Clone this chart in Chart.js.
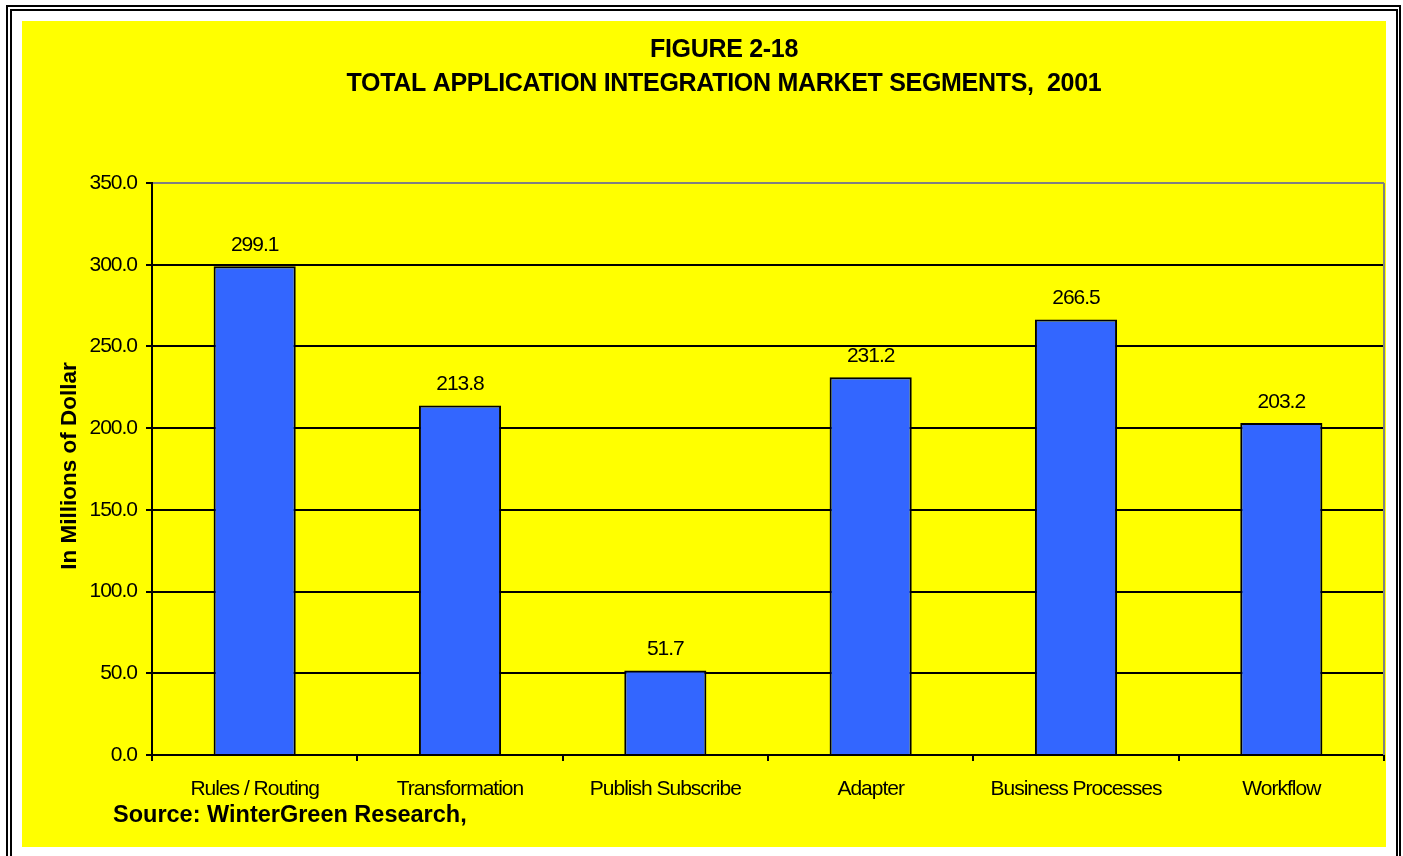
<!DOCTYPE html>
<html><head><meta charset="utf-8">
<script src="https://cdn.jsdelivr.net/npm/chart.js@4/dist/chart.umd.min.js"></script>
<style>
html,body{margin:0;padding:0;width:1403px;height:856px;overflow:hidden;background:#fff;}
#outer{position:absolute;left:6px;top:5px;width:1395px;height:900px;border:2px solid #000;box-sizing:border-box;}
#inner{position:absolute;left:10px;top:9px;width:1388px;height:900px;border:2px solid #000;box-sizing:border-box;}
#yellow{position:absolute;left:22px;top:21px;width:1364px;height:826px;background:#ffff00;}
#c{position:absolute;left:0;top:0;}
</style></head>
<body>
<div id="outer"></div><div id="inner"></div><div id="yellow"></div>
<canvas id="c" width="1403" height="856"></canvas>
<script>
const categories = ['Rules / Routing','Transformation','Publish Subscribe','Adapter','Business Processes','Workflow'];
const values = [299.1, 213.8, 51.7, 231.2, 266.5, 203.2];
const yMin = 0, yMax = 350, yStep = 50;
const titleLines = ['FIGURE 2-18', 'TOTAL APPLICATION INTEGRATION MARKET SEGMENTS,  2001'];
const yTitle = 'In Millions of Dollar';
const sourceText = 'Source: WinterGreen Research,';

const FONT = '"Liberation Sans", Arial, sans-serif';

const spacing = {
  id: 'spacing',
  beforeDraw(chart) { chart.ctx.letterSpacing = '-1px'; }
};

const decor = {
  id: 'decor',
  afterDatasetsDraw(chart) {
    const ctx = chart.ctx, a = chart.chartArea;
    ctx.save();
    // right plot border (gray)
    ctx.strokeStyle = '#808080'; ctx.lineWidth = 2;
    ctx.beginPath(); ctx.moveTo(a.right, a.top); ctx.lineTo(a.right, a.bottom); ctx.stroke();
    // data labels
    ctx.fillStyle = '#000';
    ctx.letterSpacing = '-1px';
    ctx.font = '21px ' + FONT;
    ctx.textAlign = 'center'; ctx.textBaseline = 'middle';
    chart.getDatasetMeta(0).data.forEach((bar, i) => {
      ctx.fillText(values[i].toFixed(1), bar.x, bar.y - 21);
    });
    // titles
    ctx.letterSpacing = '-0.3px';
    ctx.font = 'bold 25px ' + FONT;
    ctx.fillText(titleLines[0], 724, 50);
    ctx.fillText(titleLines[1], 724, 84);
    // y title
    ctx.save();
    ctx.letterSpacing = '0px';
    ctx.translate(70, 466); ctx.rotate(-Math.PI/2);
    ctx.font = 'bold 22.5px ' + FONT;
    ctx.fillText(yTitle, 0, 0);
    ctx.restore();
    // source
    ctx.letterSpacing = '0px';
    ctx.textAlign = 'left';
    ctx.font = 'bold 23.5px ' + FONT;
    ctx.fillText(sourceText, 113, 816);
    ctx.restore();
  }
};

new Chart(document.getElementById('c'), {
  type: 'bar',
  data: {
    labels: categories,
    datasets: [{
      data: values,
      backgroundColor: '#3366ff',
      borderColor: '#000',
      borderWidth: 2,
      barPercentage: 0.4,
      categoryPercentage: 1.0
    }]
  },
  options: {
    responsive: false,
    animation: false,
    events: [],
    layout: { padding: { top: 183, right: 19, left: 0, bottom: 0 } },
    plugins: { legend: { display: false }, title: { display: false }, tooltip: { enabled: false } },
    scales: {
      x: {
        afterFit(s) { s.height = 101; },
        grid: { drawOnChartArea: false, drawTicks: true, tickLength: 6, color: '#000', tickColor: '#000', lineWidth: 2, offset: true },
        border: { display: true, color: '#000', width: 2 },
        ticks: { color: '#000', font: { family: FONT, size: 21 }, padding: 16, maxRotation: 0, autoSkip: false }
      },
      y: {
        min: yMin, max: yMax,
        afterFit(s) { s.width = 152; },
        grid: {
          color: (c) => (c.tick && c.tick.value === yMax) ? '#808080' : '#000',
          tickColor: '#000', lineWidth: 2, tickLength: 6, drawTicks: true
        },
        border: { display: true, color: '#000', width: 2 },
        ticks: { stepSize: yStep, color: '#000', font: { family: FONT, size: 21 }, padding: 9,
                 callback: (v) => Number(v).toFixed(1) }
      }
    }
  },
  plugins: [spacing, decor]
});
</script>
</body></html>
